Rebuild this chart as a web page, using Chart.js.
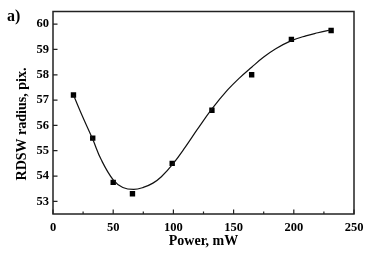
<!DOCTYPE html>
<html>
<head>
<meta charset="utf-8">
<script src="https://cdn.jsdelivr.net/npm/chart.js@4"></script>
<style>
  html, body { margin: 0; padding: 0; background: #fff; }
  #wrap { width: 388px; height: 264px; position: relative; }
</style>
</head>
<body>
<div id="wrap"><canvas id="chart"></canvas></div>
<script>
// measured points
const powerMw = [17, 33, 50, 66, 99, 132, 165, 198, 231];
const radiusPix = [57.2, 55.5, 53.75, 53.3, 54.5, 56.6, 58.0, 59.4, 59.75];

// fit curve
const fitPower = [17, 25, 33, 40, 50, 58, 67, 75, 83, 90, 100, 110, 120, 132, 145, 155, 165, 175, 185, 198, 210, 220, 231];
const fitRadius = [57.2, 56.3, 55.45, 54.65, 53.85, 53.55, 53.47, 53.55, 53.72, 53.97, 54.5, 55.15, 55.85, 56.65, 57.4, 57.88, 58.3, 58.7, 59.03, 59.35, 59.54, 59.66, 59.78];

const xTicks = [0, 50, 100, 150, 200, 250];
const xMinorTicks = [25, 75, 125, 175, 225];
const yTicks = [53, 54, 55, 56, 57, 58, 59, 60];

const FONT = "'Liberation Serif', 'Times New Roman', serif";

// box + inward ticks + titles
const framePlugin = {
  id: 'frame',
  afterDraw(chart) {
    const {ctx, chartArea: a, scales: {x, y}} = chart;
    ctx.save();
    ctx.strokeStyle = '#222';
    ctx.lineWidth = 1.5;
    ctx.strokeRect(a.left, a.top, a.right - a.left, a.bottom - a.top);
    ctx.lineWidth = 1.2;
    ctx.beginPath();
    xTicks.forEach(v => {
      const px = x.getPixelForValue(v);
      ctx.moveTo(px, a.bottom); ctx.lineTo(px, a.bottom - 4.5);
    });
    xMinorTicks.forEach(v => {
      const px = x.getPixelForValue(v);
      ctx.moveTo(px, a.bottom); ctx.lineTo(px, a.bottom - 2.5);
    });
    yTicks.forEach(v => {
      const py = y.getPixelForValue(v);
      ctx.moveTo(a.left, py); ctx.lineTo(a.left + 4.5, py);
    });
    ctx.stroke();

    ctx.fillStyle = '#000';
    ctx.font = 'bold 14px ' + FONT;
    ctx.textAlign = 'center';
    ctx.textBaseline = 'alphabetic';
    ctx.fillText('Power, mW', (a.left + a.right) / 2, 244.5);

    ctx.save();
    ctx.translate(26, 124);
    ctx.rotate(-Math.PI / 2);
    ctx.fillText('RDSW radius, pix.', 0, 0);
    ctx.restore();

    ctx.textAlign = 'left';
    ctx.font = 'bold 16px ' + FONT;
    ctx.fillText('a)', 7, 21);
    ctx.restore();
  }
};

new Chart(document.getElementById('chart'), {
  type: 'scatter',
  data: {
    datasets: [
      {
        label: 'fit',
        data: fitPower.map((p, i) => ({x: p, y: fitRadius[i]})),
        showLine: true,
        borderColor: '#111',
        borderWidth: 1.2,
        pointRadius: 0,
        tension: 0.4
      },
      {
        label: 'data',
        data: powerMw.map((p, i) => ({x: p, y: radiusPix[i]})),
        pointStyle: 'rect',
        pointRadius: 3.8,
        backgroundColor: '#000',
        borderColor: '#000',
        borderWidth: 0
      }
    ]
  },
  options: {
    responsive: true,
    maintainAspectRatio: false,
    animation: false,
    layout: { padding: { top: 9, right: 34, left: 0, bottom: 0 } },
    plugins: { legend: { display: false }, tooltip: { enabled: false } },
    scales: {
      x: {
        type: 'linear', min: 0, max: 250,
        afterBuildTicks: s => { s.ticks = xTicks.map(v => ({value: v})); },
        afterFit: s => { s.height = 50; },
        grid: { display: false, drawTicks: false },
        border: { display: false },
        ticks: { color: '#000', padding: 6, font: { family: FONT, size: 12.5, weight: 'bold' } }
      },
      y: {
        type: 'linear', min: 52.5, max: 60.5,
        afterBuildTicks: s => { s.ticks = yTicks.map(v => ({value: v})); },
        afterFit: s => { s.width = 53; },
        grid: { display: false, drawTicks: false },
        border: { display: false },
        ticks: { color: '#000', padding: 4, font: { family: FONT, size: 12.5, weight: 'bold' } }
      }
    }
  },
  plugins: [framePlugin]
});
</script>
</body>
</html>
